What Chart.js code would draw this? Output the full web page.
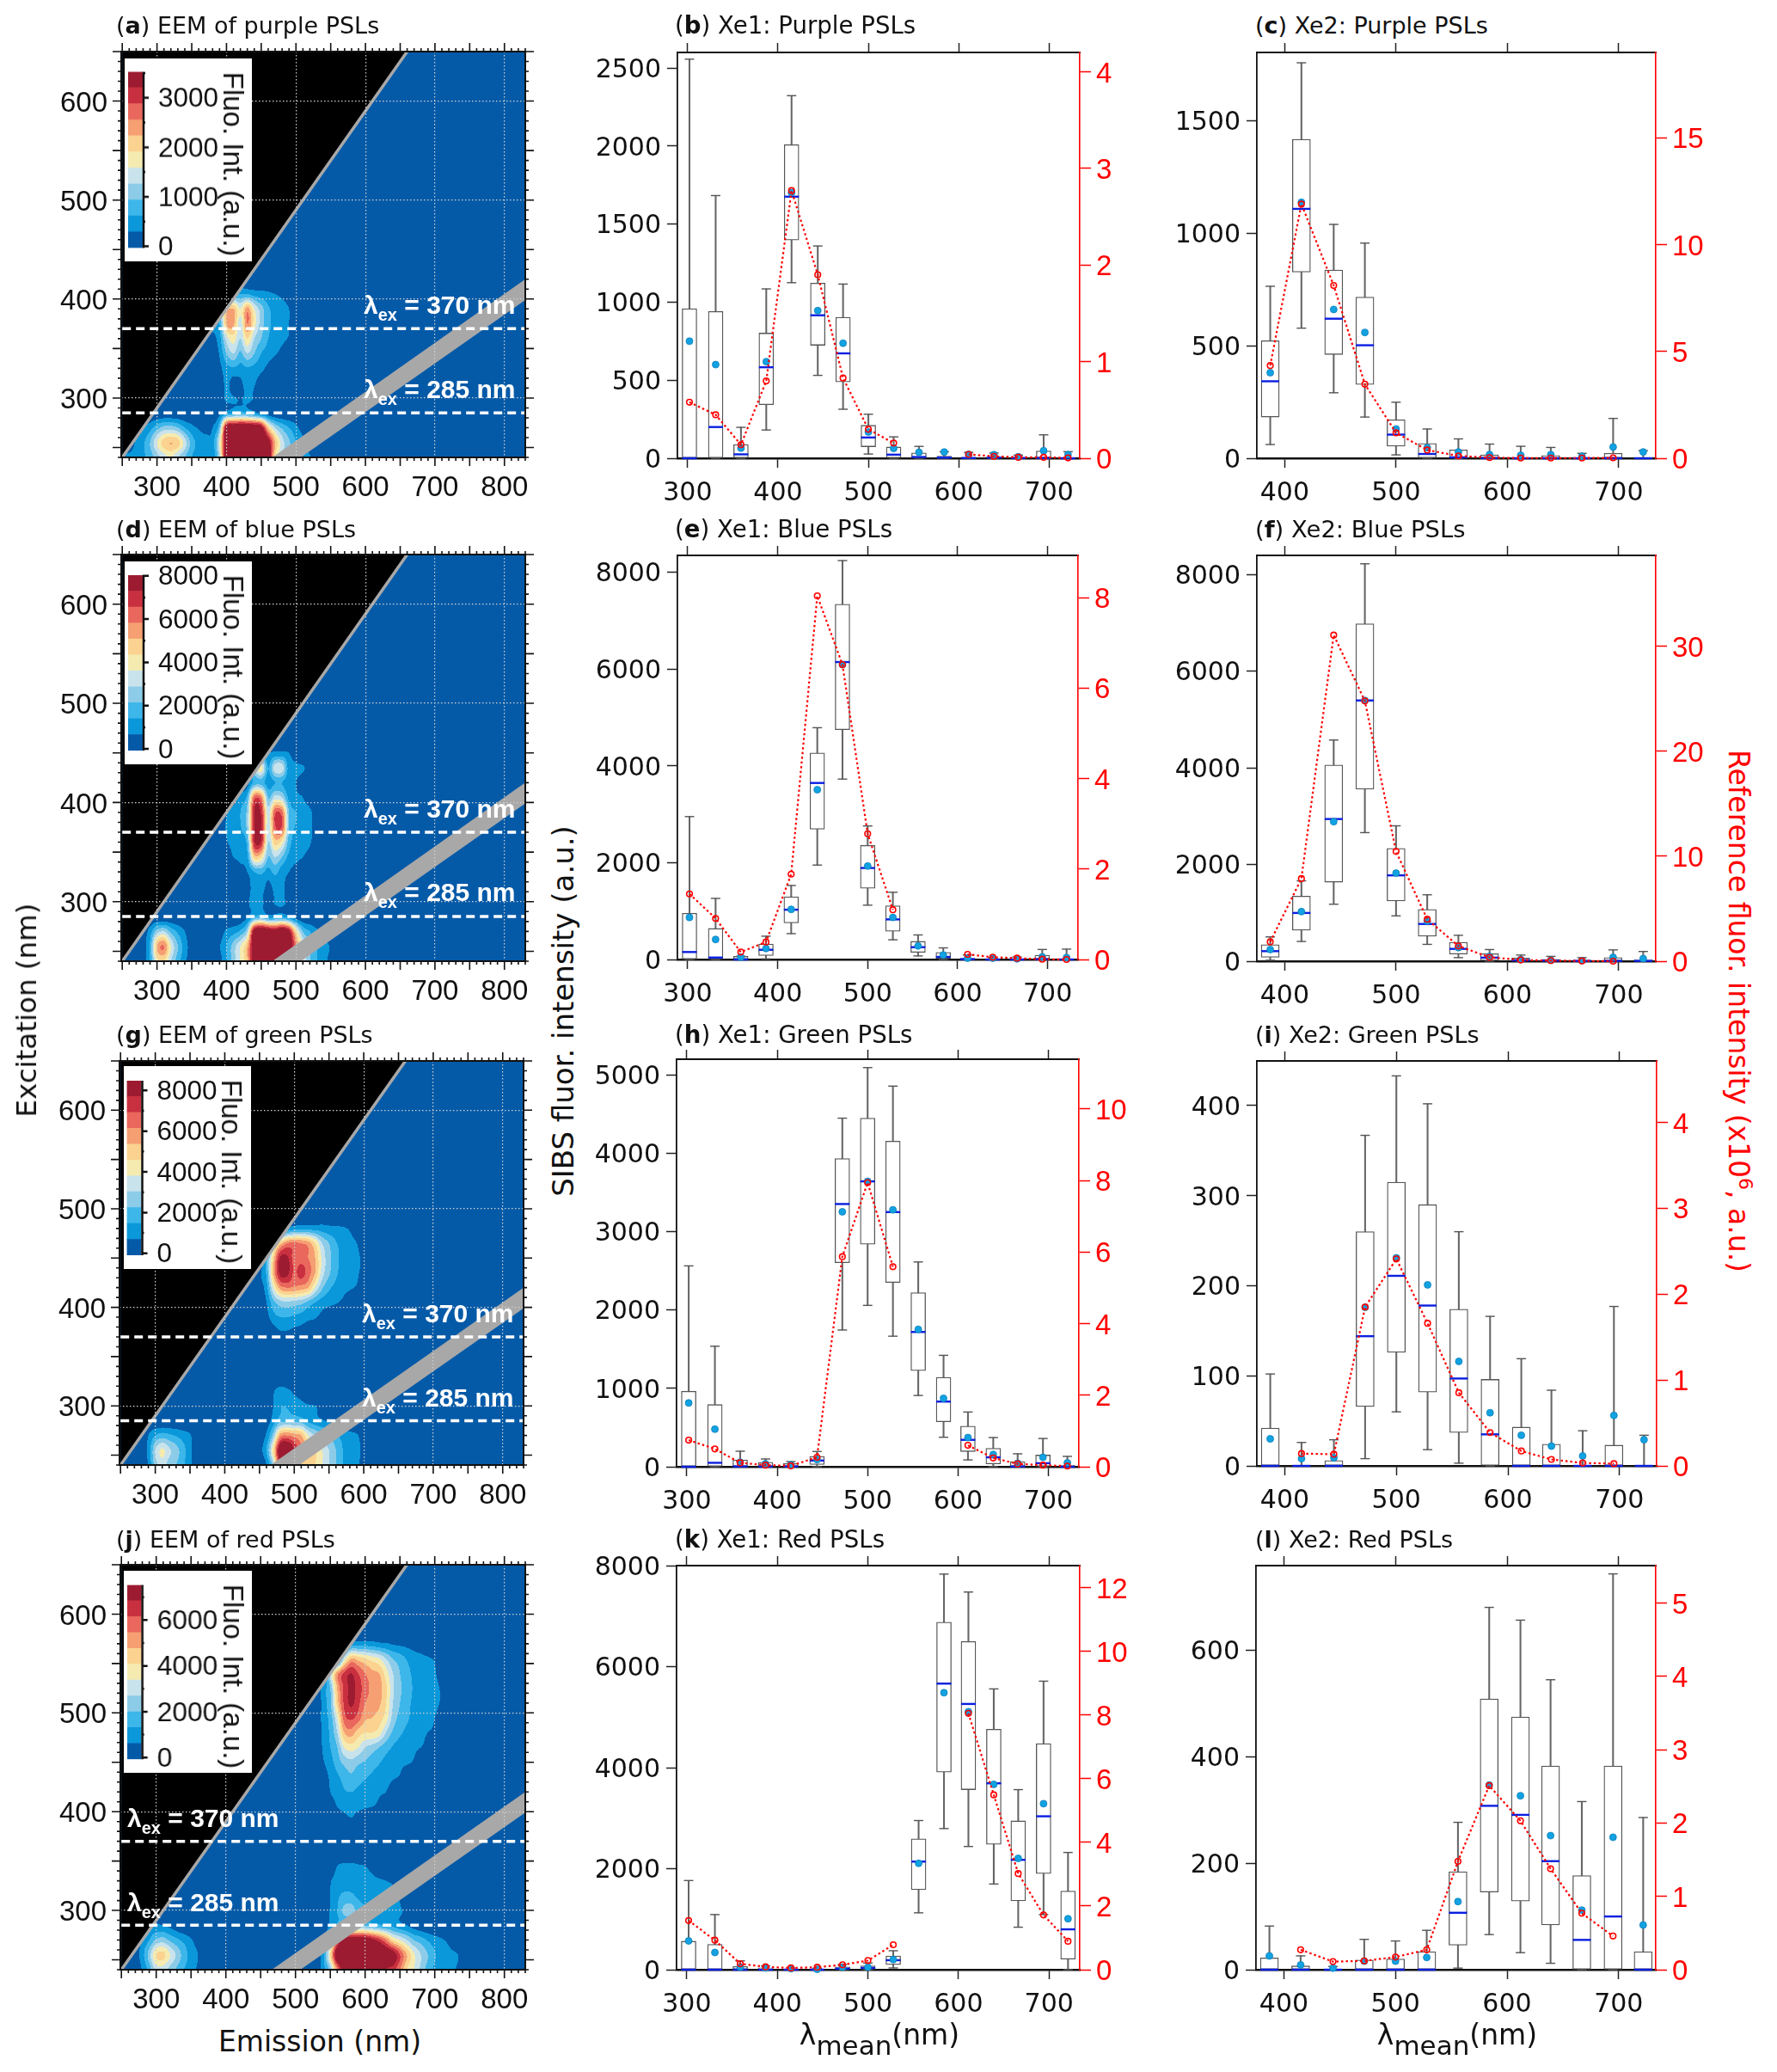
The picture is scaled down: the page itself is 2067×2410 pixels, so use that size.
<!DOCTYPE html>
<html lang="en">
<head>
<meta charset="UTF-8">
<title>EEM and SIBS spectra of PSLs</title>
<script src="https://cdn.jsdelivr.net/npm/chart.js"></script>
<style>
    html, body { margin: 0; padding: 0; background: #fff; }
    #page { position: relative; width: 2067px; height: 2410px; overflow: hidden; }
    canvas { position: absolute; }
    .txt { position: absolute; white-space: nowrap; color: #111; font-family: "DejaVu Sans", sans-serif; }
    .lam { position: absolute; white-space: nowrap; color: #fff; font: bold 30px "Liberation Sans", sans-serif; }
    .lam sub { font-size: 20px; vertical-align: -8px; line-height: 0; }
</style>
</head>
<body>
<div id="page"></div>
<script>
// wavelength bins
const xe1Bins = [302, 331, 359, 387, 415, 444, 472, 500, 528, 556, 584, 611, 639, 666, 694, 721];
const xe2Bins = [387, 415, 444, 472, 500, 528, 556, 584, 612, 639, 667, 695, 722];

// (b) Xe1 purple
const bLow  = [0, 0, 0, 181, 1125, 531, 314, 27, 0, 0, 0, 0, 0, 0, 0, 0];
const bQ1   = [0, 0, 0, 343, 1398, 724, 489, 74, 0, 0, 0, 0, 0, 0, 0, 0];
const bMed  = [0, 200, 25, 583, 1676, 916, 672, 133, 23, 8, 4, 2, 4, 2, 2, 0];
const bQ3   = [958, 941, 88, 802, 2009, 1122, 903, 211, 72, 34, 13, 4, 8, 4, 46, 2];
const bHigh = [2557, 1683, 198, 1085, 2323, 1360, 1116, 282, 137, 76, 42, 38, 34, 20, 150, 42];
const bMean = [750, 600, 65, 619, 1702, 946, 737, 168, 63, 38, 40, 25, 23, 10, 48, 23];
const bRef  = [0.58, 0.45, 0.14, 0.80, 2.77, 1.90, 0.83, 0.30, 0.157, null, null, 0.04, 0.02, 0.01, 0.01, 0.004];

// (c) Xe2 purple
const cLow  = [61, 578, 291, 183, 15, 0, 0, 0, 0, 0, 0, 0, 0];
const cQ1   = [183, 827, 461, 328, 54, 0, 0, 0, 0, 0, 0, 0, 0];
const cMed  = [342, 1108, 620, 502, 105, 19, 4, 1, 0, 0, 0, 0, 0];
const cQ3   = [522, 1417, 836, 716, 171, 66, 37, 15, 1, 12, 3, 22, 0];
const cHigh = [764, 1757, 1039, 956, 249, 130, 86, 63, 53, 48, 22, 177, 34];
const cMean = [380, 1137, 661, 559, 130, 47, 28, 16, 13, 16, 9, 50, 28];
const cRef  = [4.34, 11.9, 8.09, 3.47, 1.19, 0.385, 0.11, 0.03, 0.01, 0.01, 0.01, 0.02, null];

// (e) Xe1 blue
const eLow  = [0, 0, 0, 13, 534, 1950, 3726, 1122, 407, 73, 0, 0, 0, 0, 0, 0];
const eQ1   = [0, 0, 0, 80, 755, 2691, 4748, 1469, 581, 147, 20, 0, 0, 0, 0, 0];
const eMed  = [154, 40, 0, 200, 1028, 3646, 6144, 1890, 828, 254, 53, 7, 0, 0, 7, 0];
const eQ3   = [955, 641, 67, 320, 1295, 4267, 7339, 2357, 1108, 374, 147, 27, 13, 13, 87, 7];
const eHigh = [2952, 1262, 67, 481, 1529, 4788, 8240, 2758, 1389, 507, 240, 93, 40, 53, 207, 214];
const eMean = [868, 414, 47, 227, 1035, 3506, 6090, 1930, 868, 280, 93, 27, 27, 13, 53, 40];
const eRef  = [1.45, 0.908, 0.164, 0.386, 1.887, 8.04, 6.52, 2.78, 1.10, null, null, 0.114, 0.05, 0.03, 0.007, 0];

// (f) Xe2 blue
const fLow  = [20, 409, 1179, 2660, 938, 348, 74, 0, 0, 0, 0, 0, 0];
const fQ1   = [80, 643, 1635, 3558, 1246, 516, 147, 13, 0, 0, 0, 0, 0];
const fMed  = [208, 998, 2941, 5394, 1776, 770, 255, 74, 20, 13, 7, 7, 7];
const fQ3   = [342, 1347, 4060, 6981, 2332, 1072, 389, 154, 67, 40, 20, 74, 34];
const fHigh = [503, 1662, 4576, 8221, 2801, 1374, 536, 241, 127, 100, 74, 234, 201];
const fMean = [241, 1025, 2888, 5394, 1822, 831, 281, 100, 34, 20, 13, 80, 54];
const fRef  = [1.85, 7.87, 31.08, 24.8, 10.46, 4.0, 1.45, 0.37, 0.12, 0.06, 0.03, 0, null];

// (h) Xe1 green
const hLow  = [0, 0, 0, 0, 0, 0, 1744, 2058, 1665, 909, 376, 87, 0, 0, 0, 0];
const hQ1   = [0, 0, 0, 0, 0, 29, 2603, 2839, 2351, 1227, 574, 194, 37, 0, 0, 0];
const hMed  = [0, 50, 4, 4, 4, 79, 3351, 3640, 3248, 1719, 831, 343, 120, 4, 45, 0];
const hQ3   = [963, 793, 87, 58, 41, 132, 3930, 4446, 4153, 2219, 1140, 517, 236, 66, 149, 17];
const hHigh = [2562, 1537, 198, 99, 66, 194, 4446, 5091, 4855, 2612, 1421, 698, 372, 165, 360, 132];
const hMean = [814, 479, 58, 37, 25, 91, 3252, 3640, 3277, 1752, 872, 372, 157, 45, 120, 50];
const hRef  = [0.743, 0.498, 0.109, 0.045, 0.027, 0.263, 5.87, 7.94, 5.59, null, null, 0.598, 0.245, 0.08, 0.045, 0.018];

// (i) Xe2 green
const iLow  = [0, 0, 0, 8, 60, 18, 3, 0, 0, 0, 0, 0, 0];
const iQ1   = [0, 0, 0, 66, 126, 82, 37, 0, 0, 0, 0, 0, 0];
const iMed  = [0, 0, 0, 144, 211, 178, 97, 35, 0, 0, 0, 0, 0];
const iQ3   = [42, 0, 6, 260, 315, 290, 174, 96, 43, 24, 0, 23, 0];
const iHigh = [102, 26, 29, 367, 433, 402, 260, 166, 119, 84, 39, 177, 34];
const iMean = [30, 8, 9, 176, 231, 201, 116, 59, 34, 22, 11, 56, 29];
const iRef  = [null, 0.143, 0.136, 1.85, 2.41, 1.66, 0.852, 0.388, 0.173, 0.075, 0.034, 0.026, null];

// (k) Xe1 red
const kLow  = [0, 0, 0, 0, 0, 0, 0, 0, 35, 1126, 2794, 2439, 1696, 841, 1091, 0];
const kQ1   = [0, 0, 0, 0, 0, 0, 0, 0, 104, 1584, 3912, 3565, 2481, 1362, 1904, 208];
const kMed  = [0, 0, 0, 0, 0, 0, 21, 35, 188, 2140, 5664, 5261, 3690, 2175, 3037, 799];
const kQ3   = [563, 500, 63, 35, 7, 7, 56, 76, 271, 2592, 6880, 6498, 4760, 2946, 4475, 1557];
const kHigh = [1765, 1091, 174, 76, 35, 28, 104, 132, 375, 2953, 7832, 7477, 5559, 3565, 5712, 2321];
const kMean = [570, 341, 49, 35, 21, 7, 49, 49, 202, 2106, 5483, 5108, 3669, 2203, 3287, 1008];
const kRef  = [1.544, 0.926, 0.187, 0.09, 0.055, 0.077, 0.154, 0.287, 0.783, null, null, 8.05, 5.49, 3.02, 1.72, 0.893];

// (l) Xe2 red
const lLow  = [0, 0, 0, 0, 0, 0, 3, 66, 32, 12, 0, 0, 0];
const lQ1   = [0, 0, 0, 0, 0, 0, 46, 146, 129, 84, 0, 0, 0];
const lMed  = [0, 0, 0, 0, 0, 0, 107, 308, 291, 204, 56, 100, 0];
const lQ3   = [22, 7, 1, 18, 20, 34, 184, 509, 475, 383, 177, 383, 34];
const lHigh = [82, 26, 6, 57, 54, 74, 277, 681, 657, 545, 316, 744, 286];
const lMean = [26, 9, 3, 16, 16, 23, 128, 347, 327, 252, 112, 249, 84];
const lRef  = [null, 0.272, 0.11, 0.12, 0.172, 0.272, 1.477, 2.51, 2.03, 1.377, 0.77, 0.459, null];

// EEM surfaces, in colour band units (1 band = 1/11 of the colour bar).
// every row: excitation, first emission, then values every 10 nm of emission
const eemA = [
  [240, 250, 1.2,1.4,1.5,1.8,2.5,3.5,4.5,5,4,3,2,1.4,1.2,1.3,4,11.5,12,12,12,12,12,11.5,6,4,3,2,1.5,1.1,.3],
  [255, 270, 1.2,1.8,3,5,6.5,7,6.5,4.5,2.6,1.6,1.3,1.5,5,11.5,12,12,12,12,12,11,7,4.5,3.2,2,1.3,.4],
  [270, 280, .9,1.6,2.6,3.4,3.5,3,2,1.3,.9,.7,1,3,11,11.8,12,12,11.8,11,6.5,4,2.8,2,1.3,.5],
  [285, 380, .2,.7,1.5,2,2.3,2,1.4,.7,.3],
  [300, 390, .3,1.2,1.1,.9,1.2,.9,.3],
  [315, 390, .4,1.2,.6,.8,1.4,1.1,.4],
  [330, 390, .7,1.6,1.9,1.6,1.9,1.7,1.3,.7,.3],
  [345, 380, .3,1.1,3,4,2.8,4,3,2,1.5,1.1,.7,.2],
  [360, 380, .6,1.6,4.5,5.5,4,6,4,3,2,1.5,1.2,.9,.2],
  [375, 380, 1.2,2,7,7.2,4.5,8,5.5,3.5,2.3,1.7,1.4,1,.3],
  [390, 390, 3,6.5,7,5,7.5,5,3.5,2.2,1.6,1.3,1,.3],
  [405, 400, 1.5,2,2,2,1.6,1.4,1.2,1,.8,.5]
];
const eemD = [
  [240, 280, .5,2,5.5,6,4,2.5,1.3,.3,0,0,0,.6,1.8,3.5,5,7,11.5,12,12,12,12,11.5,8,5,3,2,1.4,.6],
  [255, 280, .6,2.2,7,8,5,3,1.5,.5,0,0,0,.9,2,3.5,5,7,11.5,12,12,12,12,11.5,8,5,3.2,2,1.4,.9,.2],
  [270, 280, .4,1.5,3.5,4,2.7,1.8,1,.2,0,0,0,.4,1.2,1.6,2.2,4,11,12,11.5,11,12,10.5,6,3,2,1.2,.7,.2],
  [285, 420, .2,.9,2,2.5,1.5,1.6,1.8,1.2,.4],
  [300, 420, .1,.8,1.6,1.2,.6,1.1,1.2,.7],
  [315, 430, .5,1.5,1.5,.7,1.3,1.2,.6],
  [330, 420, .5,1,2,2.3,1.6,2.3,1.4,1,.5],
  [345, 400, .3,1,1.3,1.8,6.5,6,3,4,3,1.7,1.3,1,.6],
  [360, 400, .9,1.3,1.6,2.5,9.8,9.8,4,6.5,5.5,2.5,1.6,1.3,1.1,.4],
  [375, 390, .5,1.1,1.5,1.9,3.5,9.8,9.9,4.5,8.8,8.8,3,1.9,1.5,1.2,.5],
  [390, 400, .9,1.5,2,3.5,10,9.8,4.5,8.8,8.3,3,2,1.5,1.2,.4],
  [405, 410, .3,1.4,2.5,8.5,8,3,4.5,4,1.7,1.2,1,.4],
  [420, 430, .6,2.4,2.6,1.5,2,2,1.2,1,.5],
  [435, 430, 1.5,4,5.5,2,4.5,4.5,1.5,1.2,1.1,.6],
  [450, 440, 1,1.2,1,1.2,1.2,1,.5]
];
const eemG = [
  [240, 280, .3,1.1,3.5,4.5,3.5,3,2.2,1.2,.3],
  [255, 280, .4,1.3,4,5.2,4.2,3.4,2.4,1.3,.4],
  [270, 280, .1,1,2,2.5,2.2,1.9,1.5,1.1,.2],
  [240, 450, .3,1,4,10,11,9,7,6,6,5,4,3,2,1.5,1.2,.6,.1],
  [255, 450, .6,2,6,11.5,12,10,8,7,6,5,4,3,2,1.5,1.2,.8,.2],
  [270, 450, .3,1.2,3.5,7.5,8,7.5,7,5,4,3.3,2.8,2.2,1.6,1.3,1.1,.5],
  [285, 460, .4,1.5,2.6,2.8,2.7,2.5,1.8,1.4,1.1,.8,.3],
  [300, 460, .1,1,1.9,1.9,1.6,1.3,1.1,1,.6],
  [315, 470, .9,1.4,1.2,.8,.6,.2],
  [375, 470, .5,.9,.9,.7,.6,.3],
  [390, 460, .6,1.6,2,2,1.8,1.6,1.3,1.1,.7,.3],
  [405, 460, 1,2.7,3.6,3.8,3.6,3.4,2.7,2,1.5,1.3,1.1,.8,.3],
  [420, 450, .5,1.6,5,7.5,8,7.8,7.5,7,5,3.2,2.2,1.7,1.3,1.1,.9,.3],
  [435, 450, .8,2.2,7,10.4,10.3,8.8,9.5,8.5,7,4.5,3.2,2.2,1.6,1.2,1.1,.7],
  [450, 460, 2.2,6.5,10.2,10.2,8.5,8.5,8,7,4.8,3.3,2.3,1.7,1.2,1.1,.8],
  [465, 470, 4,6.5,8,8.2,8,7.5,6,4,3,2.1,1.6,1.2,1,.5],
  [480, 490, 1.2,1.6,1.8,1.7,1.6,1.5,1.3,1.2,1.1,.9,.5]
];
const eemJ = [
  [240, 270, .3,1.1,2.5,4.5,4.5,3.6,2.8,2,1.5,.8],
  [255, 270, .4,1.6,3.5,6,6.3,5,3.7,2.5,1.6,1,.2],
  [270, 270, .2,1.1,2,3.2,3.5,2.8,2.2,1.7,1.1,.5],
  [285, 290, .9,1.1,1,.7,.3],
  [240, 530, .4,1.6,3.5,8,11,11.5,11.5,11.5,11,11,10,9.5,8,6,5,3.8,2.6,1.8,1.3,1.1,1,.5],
  [255, 530, .4,1.8,6,11.5,12,12,12,12,12,12,11.5,11,9,7,5.2,4,3,2.1,1.5,1.2,1.1,.7],
  [270, 540, .9,3,8,11,11.5,11.5,11.3,10.5,9.5,8,6,5,4,3,2.5,1.9,1.4,1.1,.8,.3],
  [285, 540, .2,1.3,2.4,3,3,3,2.8,2.5,2.2,1.9,1.7,1.3,1,.5,.2],
  [300, 540, .1,1.1,2,3.3,3.5,2.6,2.2,1.9,1.6,1.4,1.2,1.1,.7,.1],
  [315, 550, 1,1.8,2.2,2.2,1.8,1.6,1.4,1.2,1.1,1,.9,.3],
  [330, 550, .9,1.4,1.6,1.5,1.4,1.3,1.2,1.1,1,.9,.7],
  [345, 550, .2,1,1.2,1.2,1.1,1,.7,.3],
  [390, 570, .4,.8,.3],
  [405, 550, .4,1,1.4,1.5,1.3,1.1,1,.8,.4],
  [420, 550, 1,1.4,1.9,2,1.8,1.5,1.3,1.1,1,.5],
  [435, 540, .4,1.2,1.8,2.4,2.8,2.4,2.1,1.8,1.5,1.3,1.1,.9,.3],
  [450, 540, .9,1.6,2.5,3.3,3.7,3.2,2.9,2.5,2.1,1.7,1.4,1.2,1.1,.9,.3],
  [465, 540, 1.2,2,3,5,5.5,5,4,3.6,3,2.4,1.9,1.5,1.2,1.1,1,.7,.1],
  [480, 540, 1.4,2.2,4,7,7.5,6.5,6,6,5.5,4,2.8,2.2,1.7,1.3,1.1,1,.8],
  [495, 540, 1.5,2.4,5,8.5,9.2,8.5,7.2,7,6.5,5.5,3.6,2.7,2.2,1.6,1.3,1.1,1,.6],
  [510, 540, 1.5,2.8,6.5,9.2,10.2,9.3,8,7.5,7.2,6,4,3,2.3,1.8,1.4,1.2,1.1,.9,.3],
  [525, 540, 1.5,3,7,9.2,10.3,9.5,8.5,7.7,7.4,6.2,4.2,3.2,2.4,1.9,1.5,1.2,1.1,.9,.3],
  [540, 550, 4,7.5,9.2,10,9,8,7.3,7,5.5,4,3,2.3,1.8,1.4,1.2,1.05,.7,.2],
  [555, 570, 4.5,7,6.5,6,5.5,5,4,3,2.5,1.9,1.5,1.3,1.1,.9,.5,.1],
  [570, 580, 1.3,1.5,1.5,1.4,1.2,1.1,.9,.8,.7,.5,.3]
];

// masked regions of the EEM (emission, excitation)
const blackEm = [250, 250, 660];
const blackEx = [240, 650, 650];
const orderEm = [466, 507, 830, 830];
const orderEx = [240, 240, 399, 420];
const bandColors = ['#055aa8', '#0a98da', '#3db6ea', '#8ccce8', '#c9e3ec', '#f5ebb0', '#fbd28f', '#f59f72', '#e9675d', '#c9303f', '#9c1b30'];
const refRed = '#ff0000';

const page = document.getElementById('page');

function addText(html, x, y, css, cls) {
    const d = document.createElement('div');
    d.className = cls || 'txt';
    d.innerHTML = html;
    d.style.left = x + 'px';
    d.style.top = y + 'px';
    d.style.cssText += ';' + (css || '');
    page.appendChild(d);
    return d;
}

function addCanvas(x, y, w, h) {
    const c = document.createElement('canvas');
    c.width = w; c.height = h;
    c.style.left = x + 'px'; c.style.top = y + 'px';
    c.style.width = w + 'px'; c.style.height = h + 'px';
    page.appendChild(c);
    return c;
}

// keep the plot area where it was asked to be, whatever the tick labels measure
function fixBox(s, prop, size) {
    s[prop] = size;
    s.paddingTop = s.paddingBottom = s.paddingLeft = s.paddingRight = 0;
}

// multiples of step inside the axis range
function tickValues(min, max, step) {
    const out = [];
    for (let v = Math.ceil(min / step) * step; v <= max; v += step) out.push({ value: v });
    return out;
}

function catmull(a, b, c, d, t) {
    return 0.5 * (2 * b + (c - a) * t + (2 * a - 5 * b + 4 * c - d) * t * t + (3 * b - a - 3 * c + d) * t * t * t);
}

function buildGrid(rows) {
    const g = [];
    for (let j = 0; j < 28; j++) g.push(new Array(62).fill(0));
    rows.forEach(r => {
        const j = (r[0] - 240) / 15, i0 = (r[1] - 250) / 10;
        r.slice(2).forEach((v, k) => { g[j][i0 + k] = v; });
    });
    return g;
}

function sample(g, em, ex) {
    const fx = (em - 250) / 10, fy = (ex - 240) / 15;
    const i = Math.floor(fx), j = Math.floor(fy);
    const tx = fx - i, ty = fy - j;
    const at = (a, b) => g[Math.max(0, Math.min(27, b))][Math.max(0, Math.min(61, a))];
    const col = [];
    for (let b = j - 1; b <= j + 2; b++) {
        col.push(catmull(at(i - 1, b), at(i, b), at(i + 1, b), at(i + 2, b), tx));
    }
    return catmull(col[0], col[1], col[2], col[3], ty);
}

// EEM frame, coloured surface and tick marks on all four sides
function eemPlugin(rows) {
    const g = buildGrid(rows);
    const rgb = bandColors.map(h => [parseInt(h.slice(1, 3), 16), parseInt(h.slice(3, 5), 16), parseInt(h.slice(5, 7), 16)]);
    return {
        id: 'eem',
        beforeDraw(chart) {
            const a = chart.chartArea, sx = chart.scales.x, sy = chart.scales.y;
            const w = Math.round(a.right - a.left), h = Math.round(a.bottom - a.top);
            const off = document.createElement('canvas');
            off.width = w; off.height = h;
            const oc = off.getContext('2d');
            const img = oc.createImageData(w, h);
            for (let py = 0; py < h; py++) {
                const ex = sy.getValueForPixel(a.top + py + 0.5);
                for (let px = 0; px < w; px++) {
                    const em = sx.getValueForPixel(a.left + px + 0.5);
                    const v = sample(g, em, ex);
                    const c = rgb[Math.max(0, Math.min(10, Math.floor(v)))];
                    const k = (py * w + px) * 4;
                    img.data[k] = c[0]; img.data[k + 1] = c[1]; img.data[k + 2] = c[2]; img.data[k + 3] = 255;
                }
            }
            oc.putImageData(img, 0, 0);
            chart.ctx.drawImage(off, a.left, a.top);
        },
        afterDraw(chart) {
            const a = chart.chartArea, sx = chart.scales.x, sy = chart.scales.y, ctx = chart.ctx;
            ctx.save();
            ctx.strokeStyle = '#111';
            ctx.lineWidth = 1.6;
            ctx.beginPath();
            for (let v = 250; v <= 830; v += 10) {
                const len = v % 50 === 0 ? 10 : 4, p = sx.getPixelForValue(v);
                ctx.moveTo(p, a.bottom); ctx.lineTo(p, a.bottom + len);
                ctx.moveTo(p, a.top); ctx.lineTo(p, a.top - len);
            }
            for (let v = 240; v <= 650; v += 10) {
                const len = v % 50 === 0 ? 10 : 4, p = sy.getPixelForValue(v);
                ctx.moveTo(a.left, p); ctx.lineTo(a.left - len, p);
                ctx.moveTo(a.right, p); ctx.lineTo(a.right + len, p);
            }
            ctx.stroke();
            ctx.lineWidth = 2;
            ctx.strokeRect(a.left, a.top, a.right - a.left, a.bottom - a.top);
            ctx.restore();
        }
    };
}

function eemChart(box, rows) {
    const m = { l: 120, r: 20, t: 16, b: 60 };
    const w = box.R - box.L, h = box.B - box.T;
    const canvas = addCanvas(box.L - m.l, box.T - m.t, Math.round(w + m.l + m.r), Math.round(h + m.t + m.b));
    const poly = (xs, ys) => xs.map((x, i) => ({ x: x, y: ys[i] }));
    const dashed = v => ({
        type: 'scatter', showLine: true, order: 1, pointRadius: 0,
        borderColor: '#fff', borderWidth: 3.5, borderDash: [10, 6],
        data: [{ x: 250, y: v }, { x: 830, y: v }]
    });
    new Chart(canvas, {
        type: 'scatter',
        plugins: [eemPlugin(rows)],
        data: { datasets: [
            { showLine: true, fill: 'shape', order: 4, pointRadius: 0, borderWidth: 0, backgroundColor: '#000', data: poly(blackEm, blackEx) },
            { showLine: true, fill: 'shape', order: 3, pointRadius: 0, borderWidth: 0, backgroundColor: '#a8a8a8', data: poly(orderEm, orderEx) },
            { showLine: true, order: 2, pointRadius: 0, borderColor: '#a8a8a8', borderWidth: 3.5, data: [{ x: 250, y: 240 }, { x: 660, y: 650 }] },
            dashed(370), dashed(285)
        ] },
        options: {
            responsive: false, animation: false, devicePixelRatio: 1, events: [],
            layout: { autoPadding: false, padding: { top: m.t, right: m.r } },
            plugins: { legend: { display: false }, tooltip: { enabled: false } },
            scales: {
                x: {
                    type: 'linear', min: 248.5, max: 830,
                    afterBuildTicks(s) { s.ticks = tickValues(s.min, s.max, 100); },
                    afterFit(s) { fixBox(s, 'height', m.b); },
                    grid: { color: '#d0d0d0', lineWidth: 1.2, drawTicks: false, z: 1 },
                    border: { display: false, dash: [1.5, 2.5] },
                    ticks: { maxRotation: 0, padding: 16, color: '#111', font: { family: 'Liberation Sans', size: 33 } }
                },
                y: {
                    type: 'linear', min: 240, max: 650,
                    afterBuildTicks(s) { s.ticks = tickValues(s.min, s.max, 100); },
                    afterFit(s) { fixBox(s, 'width', m.l); },
                    grid: { color: '#d0d0d0', lineWidth: 1.2, drawTicks: false, z: 1 },
                    border: { display: false, dash: [1.5, 2.5] },
                    ticks: { padding: 16, labelOffset: 3, color: '#111', font: { family: 'Liberation Sans', size: 33 } }
                }
            }
        }
    });
}

// colour bar legend: one floating bar per band
function colorBar(b) {
    const m = { l: b.barL - b.boxL, t: b.barT - b.boxT };
    const w = b.boxR - b.boxL, h = b.boxB - b.boxT;
    const canvas = addCanvas(b.boxL, b.boxT, w, h);
    canvas.style.background = '#fff';
    const step = (b.max - b.min) / 11;
    const swatches = bandColors.map((c, i) => ({
        backgroundColor: c, barPercentage: 1, categoryPercentage: 1, grouped: false,
        data: [[b.min + i * step, b.min + (i + 1) * step]]
    }));
    new Chart(canvas, {
        type: 'bar',
        plugins: [{
            id: 'cbTicks',
            afterDraw(chart) {
                const s = chart.scales.y, a = chart.chartArea, ctx = chart.ctx;
                ctx.save();
                ctx.strokeStyle = '#111';
                ctx.lineWidth = 2.5;
                ctx.beginPath();
                ctx.moveTo(a.right + 1, a.top); ctx.lineTo(a.right + 1, a.bottom);
                for (let v = 0; v <= b.max; v += b.major / 2) {
                    const p = s.getPixelForValue(v);
                    ctx.moveTo(a.right, p);
                    ctx.lineTo(a.right + (v % b.major === 0 ? 7 : 3), p);
                }
                ctx.stroke();
                ctx.restore();
            }
        }],
        data: { labels: ['z'], datasets: swatches },
        options: {
            responsive: false, animation: false, devicePixelRatio: 1, events: [],
            layout: { autoPadding: false, padding: { top: m.t, bottom: b.boxB - b.barB, left: m.l } },
            plugins: { legend: { display: false }, tooltip: { enabled: false } },
            scales: {
                x: { display: false },
                y: {
                    position: 'right', min: b.min, max: b.max,
                    afterBuildTicks(s) { s.ticks = tickValues(s.min, s.max, b.major); },
                    afterFit(s) { fixBox(s, 'width', b.boxR - b.barR); },
                    grid: { display: false },
                    border: { display: false },
                    ticks: { padding: 10, labelOffset: 2, color: '#111', font: { family: 'Liberation Sans', size: 31.5 }, callback: v => String(v) }
                }
            }
        }
    });
    addText('Fluo. Int. (a.u.)', b.textX, b.textY, 'font:33px "Liberation Sans",sans-serif;transform:translate(-50%,-50%) rotate(90deg);');
}

function boxChart(p) {
    const m = { l: 110, r: 75, t: 16, b: 60 };
    const w = p.R - p.L, h = p.B - p.T;
    const canvas = addCanvas(p.L - m.l, p.T - m.t, Math.round(w + m.l + m.r), Math.round(h + m.t + m.b));
    const boxW = 16.2 * w / (p.xMax - p.xMin);
    const pts = a => p.bins.map((x, i) => ({ x: x, y: a[i] }));
    const ranges = (lo, hi) => p.bins.map((x, i) => ({ x: x, y: [lo[i], hi[i]] }));
    const tickFont = { family: 'DejaVu Sans', size: 30 };
    new Chart(canvas, {
        type: 'scatter',
        data: { datasets: [
            { type: 'bar', order: 7, grouped: false, barPercentage: 1, categoryPercentage: 1, maxBarThickness: 1.4, backgroundColor: '#666', data: ranges(p.low, p.high) },
            { type: 'scatter', order: 6, clip: false, pointStyle: 'line', pointRadius: 5.5, borderColor: '#555', borderWidth: 1.4, data: pts(p.low).concat(pts(p.high)) },
            { type: 'bar', order: 5, grouped: false, barPercentage: 1, categoryPercentage: 1, maxBarThickness: boxW, backgroundColor: '#fff', borderColor: '#555', borderWidth: 1.3, borderSkipped: false, data: ranges(p.q1, p.q3) },
            { type: 'scatter', order: 4, clip: false, pointStyle: 'line', pointRadius: boxW / 2, borderColor: '#0a1fe0', borderWidth: 2.4, data: pts(p.med) },
            { type: 'scatter', order: 3, clip: false, pointRadius: 4, backgroundColor: '#12a2e2', borderColor: '#0d7fb8', borderWidth: 0.8, data: pts(p.mean) },
            { type: 'scatter', order: 2, clip: false, yAxisID: 'y1', showLine: true, pointRadius: 3.3, borderColor: refRed, pointBorderColor: refRed, pointBackgroundColor: 'rgba(255,255,255,0)', pointBorderWidth: 1.6, borderWidth: 2.2, borderDash: [2.5, 3], data: pts(p.ref) }
        ] },
        options: {
            responsive: false, animation: false, devicePixelRatio: 1, events: [],
            layout: { autoPadding: false },
            plugins: { legend: { display: false }, tooltip: { enabled: false } },
            scales: {
                x: {
                    type: 'linear', offset: false, min: p.xMin, max: p.xMax,
                    afterBuildTicks(s) { s.ticks = tickValues(s.min, s.max, 100); },
                    afterFit(s) { fixBox(s, 'height', m.b); },
                    grid: { offset: false, drawOnChartArea: false, tickLength: 11, tickColor: '#222', tickWidth: 1.5 },
                    border: { color: '#111', width: 2.4 },
                    ticks: { maxRotation: 0, padding: 12, color: '#111', font: tickFont }
                },
                xTop: {
                    type: 'linear', position: 'top', offset: false, min: p.xMin, max: p.xMax,
                    afterBuildTicks(s) { s.ticks = tickValues(s.min, s.max, 100); },
                    afterFit(s) { fixBox(s, 'height', m.t); },
                    grid: { offset: false, drawOnChartArea: false, tickLength: 11, tickColor: '#222', tickWidth: 1.5 },
                    border: { color: '#111', width: 2 },
                    ticks: { display: false }
                },
                y: {
                    type: 'linear', min: 0, max: p.yMax,
                    afterBuildTicks(s) { s.ticks = tickValues(s.min, s.max, p.yStep); },
                    afterFit(s) { fixBox(s, 'width', m.l); },
                    grid: { drawOnChartArea: false, tickLength: 12, tickColor: '#222', tickWidth: 1.5 },
                    border: { color: '#111', width: 1.8 },
                    ticks: { padding: 7, labelOffset: 3, color: '#111', font: tickFont, callback: v => String(v) }
                },
                y1: {
                    type: 'linear', position: 'right', min: 0, max: p.refMax,
                    afterBuildTicks(s) { s.ticks = tickValues(s.min, s.max, p.refStep); },
                    afterFit(s) { fixBox(s, 'width', m.r); },
                    grid: { drawOnChartArea: false, tickLength: 13, tickColor: refRed, tickWidth: 1.5 },
                    border: { color: refRed, width: 1.6 },
                    ticks: { padding: 6, labelOffset: 3, color: refRed, font: { family: 'Liberation Sans', size: 33 }, callback: v => String(v) }
                }
            }
        }
    });
}

eemChart({ L: 141, R: 611, T: 60, B: 532 }, eemA);
eemChart({ L: 141, R: 611, T: 645, B: 1117.5 }, eemD);
eemChart({ L: 139, R: 609, T: 1234, B: 1704 }, eemG);
eemChart({ L: 139.5, R: 610, T: 1820, B: 2291 }, eemJ);

colorBar({ boxL: 145, boxR: 293, boxT: 68, boxB: 303.5, barL: 149, barR: 166, barT: 83.4, barB: 288, min: -33, max: 3527, major: 1000, textX: 271, textY: 190.6 });
colorBar({ boxL: 145, boxR: 293, boxT: 653, boxB: 889, barL: 149, barR: 166, barT: 669, barB: 873, min: -75, max: 8030, major: 2000, textX: 271, textY: 776 });
colorBar({ boxL: 144, boxR: 292, boxT: 1240, boxB: 1476, barL: 147.5, barR: 164.5, barT: 1257, barB: 1460, min: -95, max: 8476, major: 2000, textX: 269, textY: 1363 });
colorBar({ boxL: 144, boxR: 292.5, boxT: 1827, boxB: 2062, barL: 148, barR: 165, barT: 1843.5, barB: 2046.3, min: -76, max: 7531, major: 2000, textX: 271, textY: 1950 });

boxChart({ L: 788, R: 1256, T: 60.5, B: 532.7, xMin: 288.7, xMax: 734, yMax: 2600, yStep: 500, refMax: 4.2, refStep: 1, bins: xe1Bins, low: bLow, q1: bQ1, med: bMed, q3: bQ3, high: bHigh, mean: bMean, ref: bRef });
boxChart({ L: 1461.5, R: 1925.5, T: 61, B: 532.7, xMin: 375, xMax: 733.3, yMax: 1803, yStep: 500, refMax: 19, refStep: 5, bins: xe2Bins, low: cLow, q1: cQ1, med: cMed, q3: cQ3, high: cHigh, mean: cMean, ref: cRef });
boxChart({ L: 788, R: 1254, T: 645.7, B: 1116, xMin: 288.6, xMax: 733.8, yMax: 8347, yStep: 2000, refMax: 8.935, refStep: 2, bins: xe1Bins, low: eLow, q1: eQ1, med: eMed, q3: eQ3, high: eHigh, mean: eMean, ref: eRef });
boxChart({ L: 1461.5, R: 1925.5, T: 646, B: 1117.5, xMin: 375, xMax: 733.3, yMax: 8395, yStep: 2000, refMax: 38.67, refStep: 10, bins: xe2Bins, low: fLow, q1: fQ1, med: fMed, q3: fQ3, high: fHigh, mean: fMean, ref: fRef });
boxChart({ L: 787, R: 1255, T: 1232, B: 1705.6, xMin: 288.6, xMax: 733.8, yMax: 5198, yStep: 1000, refMax: 11.39, refStep: 2, bins: xe1Bins, low: hLow, q1: hQ1, med: hMed, q3: hQ3, high: hHigh, mean: hMean, ref: hRef });
boxChart({ L: 1461.5, R: 1926.5, T: 1233.8, B: 1704.4, xMin: 375, xMax: 733.3, yMax: 449.6, yStep: 100, refMax: 4.716, refStep: 1, bins: xe2Bins, low: iLow, q1: iQ1, med: iMed, q3: iQ3, high: iHigh, mean: iMean, ref: iRef });
boxChart({ L: 787, R: 1256, T: 1820.6, B: 2290.4, xMin: 288.7, xMax: 734, yMax: 8000, yStep: 2000, refMax: 12.69, refStep: 2, bins: xe1Bins, low: kLow, q1: kQ1, med: kMed, q3: kQ3, high: kHigh, mean: kMean, ref: kRef });
boxChart({ L: 1461, R: 1925.5, T: 1820.6, B: 2291, xMin: 375, xMax: 733.3, yMax: 759.5, yStep: 200, refMax: 5.51, refStep: 1, bins: xe2Bins, low: lLow, q1: lQ1, med: lMed, q3: lQ3, high: lHigh, mean: lMean, ref: lRef });

// panel titles
[
    ['a', 'EEM of purple PSLs', 135, 29, 27], ['b', 'Xe1: Purple PSLs', 785, 29, 27.6], ['c', 'Xe2: Purple PSLs', 1460, 29, 27],
    ['d', 'EEM of blue PSLs', 135, 615, 27], ['e', 'Xe1: Blue PSLs', 785, 615, 27.6], ['f', 'Xe2: Blue PSLs', 1460, 615, 27.4],
    ['g', 'EEM of green PSLs', 135, 1203, 27], ['h', 'Xe1: Green PSLs', 785, 1203, 27.6], ['i', 'Xe2: Green PSLs', 1460, 1203, 27],
    ['j', 'EEM of red PSLs', 135, 1790, 27], ['k', 'Xe1: Red PSLs', 785, 1790, 27.6], ['l', 'Xe2: Red PSLs', 1460, 1790, 27]
].forEach(t => addText('(<b>' + t[0] + '</b>) ' + t[1], t[2], t[3], 'font-size:' + t[4] + 'px;transform:translateY(-50%);'));

// wavelength markers on the EEM panels
const lamTop = 'transform:translateY(-85%);';
[[423, 367, 370], [423, 465, 285], [423, 953, 370], [423, 1050, 285], [421, 1540, 370], [421, 1638, 285], [148, 2127, 370], [148, 2225, 285]]
    .forEach(l => addText('λ<sub>ex</sub> = ' + l[2] + ' nm', l[0], l[1], lamTop, 'lam'));

// axis titles
addText('Excitation (nm)', 31, 1175, 'font-size:32.5px;transform:translate(-50%,-50%) rotate(-90deg);');
addText('SIBS fluor. intensity (a.u.)', 655, 1176, 'font-size:34px;transform:translate(-50%,-50%) rotate(-90deg);');
addText('Reference fluor. intensity (x10<sup style="font-size:22px;line-height:0">6</sup>, a.u.)', 2022, 1176, 'font-size:33px;color:' + refRed + ';transform:translate(-50%,-50%) rotate(90deg);');
addText('Emission (nm)', 372, 2374, 'font-size:33px;transform:translate(-50%,-50%);');
const subCss = '<sub style="font-size:31px;line-height:0;vertical-align:-12px">mean</sub>';
addText('λ' + subCss + '(nm)', 1023, 2366, 'font-size:33px;transform:translate(-50%,-50%);');
addText('λ' + subCss + '(nm)', 1695, 2366, 'font-size:33px;transform:translate(-50%,-50%);');
</script>
</body>
</html>
